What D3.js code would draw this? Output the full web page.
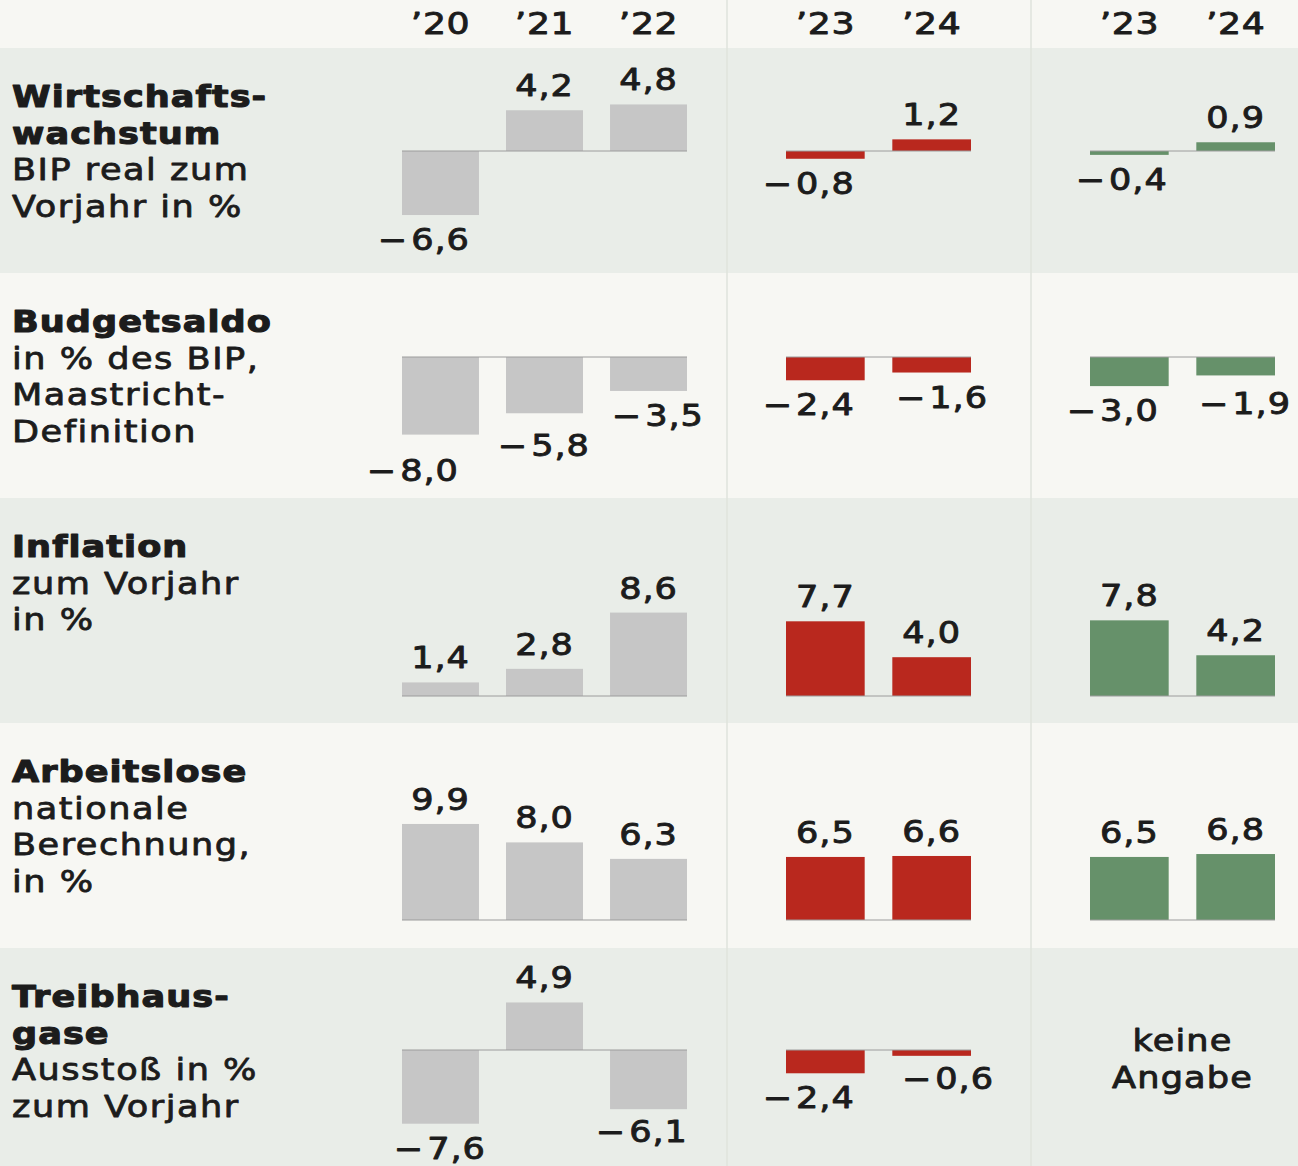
<!DOCTYPE html>
<html>
<head>
<meta charset="utf-8">
<script src="https://cdn.jsdelivr.net/npm/d3@7"></script>
<style>
  html, body { margin: 0; padding: 0; background: #f7f7f3; }
  svg { display: block; }
  text { font-family: "DejaVu Sans", sans-serif; fill: #1c1c1c; }
</style>
</head>
<body>
<svg id="chart" width="1298" height="1166"></svg>
<script>
// Data
const pastYears = ['’20', '’21', '’22'];
const forecastYears = ['’23', '’24'];

const titles = [
  ['Wirtschafts-', 'wachstum'],
  ['Budgetsaldo'],
  ['Inflation'],
  ['Arbeitslose'],
  ['Treibhaus-', 'gase'],
];
const subtitles = [
  ['BIP real zum', 'Vorjahr in %'],
  ['in % des BIP,', 'Maastricht-', 'Definition'],
  ['zum Vorjahr', 'in %'],
  ['nationale', 'Berechnung,', 'in %'],
  ['Ausstoß in %', 'zum Vorjahr'],
];

const pastValues = [
  [-6.6, 4.2, 4.8],
  [-8.0, -5.8, -3.5],
  [1.4, 2.8, 8.6],
  [9.9, 8.0, 6.3],
  [-7.6, 4.9, -6.1],
];
const redValues = [
  [-0.8, 1.2],
  [-2.4, -1.6],
  [7.7, 4.0],
  [6.5, 6.6],
  [-2.4, -0.6],
];
const greenValues = [
  [-0.4, 0.9],
  [-3.0, -1.9],
  [7.8, 4.2],
  [6.5, 6.8],
  null,
];
const noDataText = ['keine', 'Angabe'];

// Layout
const width = 1298;
const height = 1166;
const headerH = 48;
const rowH = 225;
const stretch = 1.17;
const pxPerUnit = 9.7;
const baseOffset = [103, 84, 198, 197, 102];
const ink = '#1c1c1c';

const groups = [
  { years: pastYears, values: pastValues, color: '#c6c6c6', range: [402, 687] },
  { years: forecastYears, values: redValues, color: '#b9281e', range: [786, 971] },
  { years: forecastYears, values: greenValues, color: '#66916a', range: [1090, 1275] },
];

// hand placed label nudges [dx, dy], key = row-group-bar
const labelNudge = {
  '0-2-0': [9, 0],
  '1-0-0': [-11, 11],
  '1-0-1': [16, 8],
  '1-0-2': [26, 0],
  '1-1-1': [27, 0],
  '1-2-1': [26, 4],
  '4-0-0': [16, 0],
  '4-0-2': [10, -2],
  '4-1-1': [33, -2],
};

const fmt = d3.formatLocale({
  decimal: ',', thousands: '.', grouping: [3], currency: ['', ' €'],
}).format('.1f');

const svg = d3.select('#chart');

function addText(sel, x, y, txt, opts = {}) {
  return sel.append('text')
    .attr('transform', `translate(${x},${y}) scale(${stretch},1)`)
    .attr('text-anchor', opts.anchor || 'start')
    .attr('font-size', opts.size || 30)
    .attr('font-weight', opts.bold ? 'bold' : 'normal')
    .attr('letter-spacing', opts.spacing == null ? 1.5 : opts.spacing)
    .attr('stroke', opts.stroke ? ink : 'none')
    .attr('stroke-width', opts.stroke || 0)
    .attr('stroke-linejoin', 'round')
    .text(txt);
}

// backgrounds
svg.append('rect')
  .attr('width', width)
  .attr('height', height)
  .attr('fill', '#f7f7f3');

titles.forEach((t, i) => {
  const top = headerH + i * rowH;
  svg.append('rect')
    .attr('x', 0)
    .attr('y', top)
    .attr('width', width)
    .attr('height', i === titles.length - 1 ? height - top : rowH)
    .attr('fill', i % 2 === 0 ? '#e9ede8' : '#f7f7f3');
});

// column dividers
[727, 1031].forEach((x) => {
  svg.append('line')
    .attr('x1', x).attr('x2', x)
    .attr('y1', 0).attr('y2', height)
    .attr('stroke', '#dfe3dd')
    .attr('stroke-width', 1.5);
});

// x scales per group
groups.forEach((g) => {
  g.x = d3.scaleBand()
    .domain(g.years)
    .range(g.range)
    .paddingInner(0.26)
    .paddingOuter(0);
});

// header years
const header = svg.append('g');
groups.forEach((g) => {
  g.years.forEach((yr) => {
    addText(header, g.x(yr) + g.x.bandwidth() / 2, 34, yr, {
      anchor: 'middle', size: 31, stroke: 0.9, spacing: 0.5,
    });
  });
});

// rows
titles.forEach((title, r) => {
  const top = headerH + r * rowH;
  const row = svg.append('g');

  // left labels
  const lines = title.map(t => ({ t, bold: true }))
    .concat(subtitles[r].map(t => ({ t, bold: false })));
  lines.forEach((ln, k) => {
    addText(row, 12, top + 59 + k * 36.5, ln.t, ln.bold
      ? { bold: true, spacing: 0.9, stroke: 1.1 }
      : { spacing: 1.3, stroke: 0.8 });
  });

  const base = top + baseOffset[r];
  const y = d3.scaleLinear()
    .domain([-10, 10])
    .range([base + 10 * pxPerUnit, base - 10 * pxPerUnit]);

  groups.forEach((g, gi) => {
    const vals = g.values[r];
    const cx0 = g.range[0];
    const cx1 = g.range[1];

    if (!vals) {
      noDataText.forEach((t, k) => {
        addText(row, (cx0 + cx1) / 2, base + 1 + k * 37, t, {
          anchor: 'middle', stroke: 0.9, spacing: 1,
        });
      });
      return;
    }

    const data = vals.map((v, i) => ({ v, year: g.years[i], i }));

    row.selectAll(null)
      .data(data)
      .enter()
      .append('rect')
      .attr('x', d => g.x(d.year))
      .attr('width', g.x.bandwidth())
      .attr('y', d => Math.min(y(d.v), y(0)))
      .attr('height', d => Math.abs(y(d.v) - y(0)))
      .attr('fill', g.color);

    row.append('line')
      .attr('x1', cx0).attr('x2', cx1)
      .attr('y1', y(0)).attr('y2', y(0))
      .attr('stroke', '#9c9c9c')
      .attr('stroke-width', 1);

    data.forEach((d) => {
      const [dx, dy] = labelNudge[`${r}-${gi}-${d.i}`] || [0, 0];
      const cx = g.x(d.year) + g.x.bandwidth() / 2 + dx;
      const ty = d.v >= 0 ? y(d.v) - 14 + dy : y(d.v) + 35 + dy;
      const digits = addText(row, cx, ty, fmt(Math.abs(d.v)), {
        anchor: 'middle', stroke: 0.9, spacing: 0.8,
      });
      if (d.v < 0) {
        const w = digits.node().getComputedTextLength() * stretch;
        addText(row, cx - w / 2 - 4, ty, '\u2212', {
          anchor: 'end', stroke: 0.9, spacing: 0,
        });
      }
    });
  });
});
</script>
</body>
</html>
